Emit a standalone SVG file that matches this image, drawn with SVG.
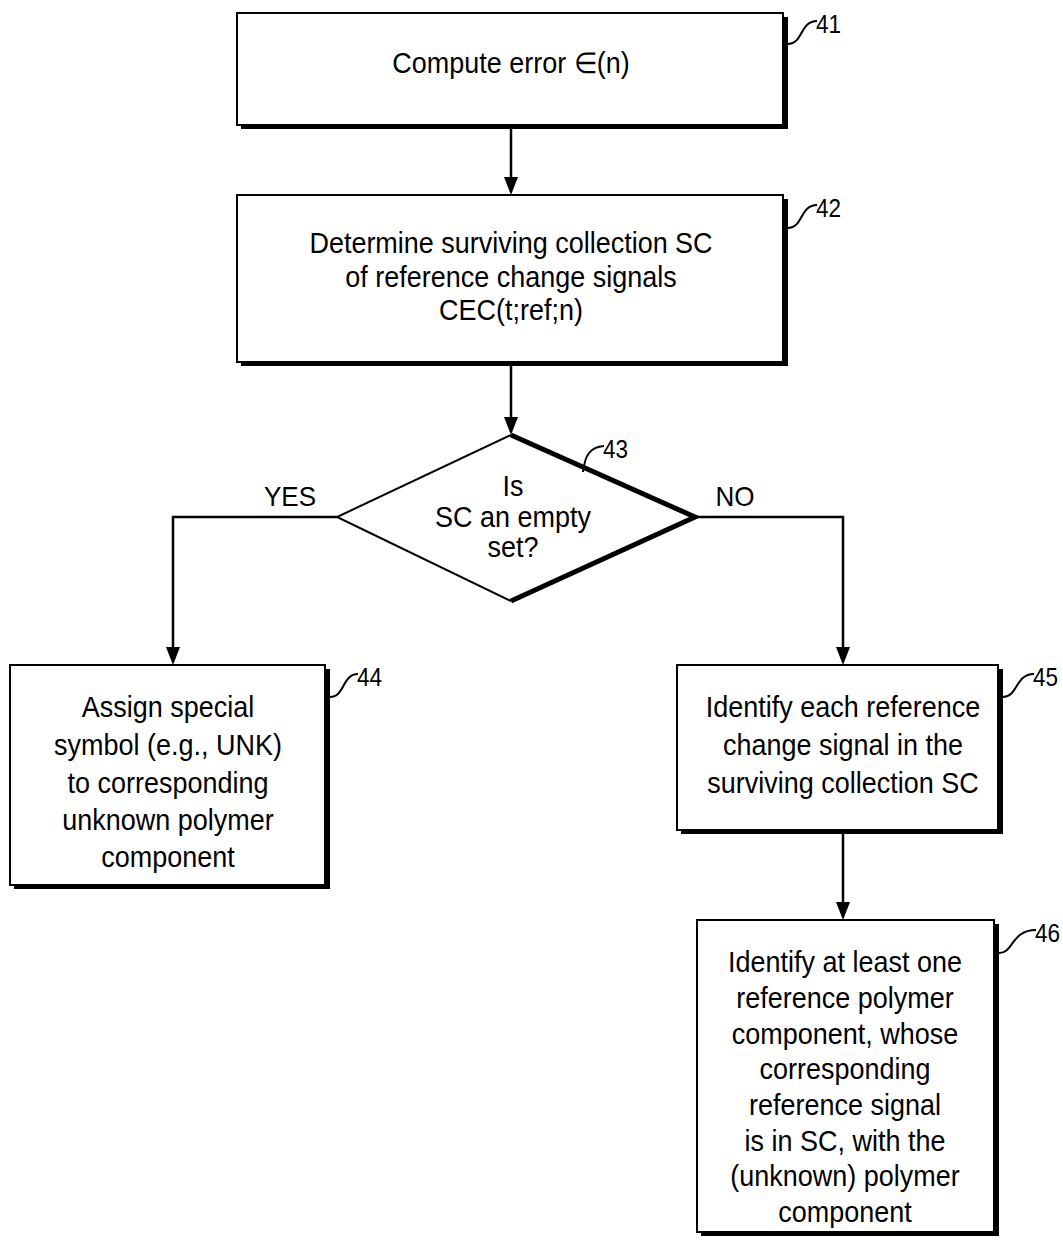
<svg xmlns="http://www.w3.org/2000/svg" width="1063" height="1240" viewBox="0 0 1063 1240">
<style>
.bx{fill:#fff;stroke:#000;stroke-width:2}
.sh{fill:#000}
.t{font-family:"Liberation Sans",Arial,sans-serif;font-size:29px;fill:#000;text-anchor:middle}
.lb{font-family:"Liberation Sans",Arial,sans-serif;font-size:25px;fill:#000}
.yn{font-family:"Liberation Sans",Arial,sans-serif;font-size:28px;fill:#000;text-anchor:middle}
.ln{fill:none;stroke:#000;stroke-width:2.5}
.ld{fill:none;stroke:#000;stroke-width:2}
.ah{fill:#000}
</style>
<rect width="1063" height="1240" fill="#fff"/>
<g id="connectors">
<line class="ln" x1="511" y1="128" x2="511" y2="180"/>
<line class="ln" x1="511" y1="365" x2="511" y2="420"/>
<polyline class="ln" points="337,517 173,517 173,650"/>
<polyline class="ln" points="695,517 843,517 843,650"/>
<line class="ln" x1="843" y1="833" x2="843" y2="905"/>
<path class="ah" d="M504,177 L518,177 L511,195 Z"/>
<path class="ah" d="M504,417 L518,417 L511,435 Z"/>
<path class="ah" d="M166,647 L180,647 L173,665 Z"/>
<path class="ah" d="M836,647 L850,647 L843,665 Z"/>
<path class="ah" d="M836,902 L850,902 L843,920 Z"/>
<text class="yn" transform="translate(290 0) scale(0.93 1)" x="0" y="506">YES</text>
<text class="yn" transform="translate(735 0) scale(0.93 1)" x="0" y="506">NO</text>
</g>
<g id="n41">
<rect class="sh" x="241" y="17" width="547" height="112"/>
<rect class="bx" x="237" y="13" width="546" height="112"/>
<text class="t" transform="translate(511 0) scale(0.93 1)" x="0" y="73">Compute error ∈(n)</text>
<path class="ld" d="M788,44 C803,44 800,21 817,21"/>
<text class="lb" transform="translate(816 0) scale(0.9 1)" x="0" y="33">41</text>
</g>
<g id="n42">
<rect class="sh" x="241" y="199" width="547" height="167"/>
<rect class="bx" x="237" y="195" width="546" height="167"/>
<text class="t" transform="translate(511 0) scale(0.93 1)"><tspan x="0" y="253">Determine surviving collection SC</tspan><tspan x="0" y="287">of reference change signals</tspan><tspan x="0" y="320">CEC(t;ref;n)</tspan></text>
<path class="ld" d="M788,228 C803,228 800,205 817,205"/>
<text class="lb" transform="translate(816 0) scale(0.9 1)" x="0" y="217">42</text>
</g>
<g id="n43">
<polygon points="511,435 695,517 511,601 337,517" fill="#fff" stroke="none"/>
<polyline class="ld" points="511,435 337,517 511,601"/>
<polyline fill="none" stroke="#000" stroke-width="5" stroke-linejoin="miter" points="511,435 695,517 511,601"/>
<text class="t" transform="translate(513 0) scale(0.93 1)"><tspan x="0" y="496">Is</tspan><tspan x="0" y="527">SC an empty</tspan><tspan x="0" y="557">set?</tspan></text>
<path class="ld" d="M583,472 C585,455 590,447 604,446"/>
<text class="lb" transform="translate(603 0) scale(0.9 1)" x="0" y="458">43</text>
</g>
<g id="n44">
<rect class="sh" x="14" y="669" width="316" height="220"/>
<rect class="bx" x="10" y="665" width="315" height="220"/>
<text class="t" transform="translate(168 0) scale(0.93 1)"><tspan x="0" y="717">Assign special</tspan><tspan x="0" y="755">symbol (e.g., UNK)</tspan><tspan x="0" y="793">to corresponding</tspan><tspan x="0" y="830">unknown polymer</tspan><tspan x="0" y="867">component</tspan></text>
<path class="ld" d="M330,697 C345,697 342,674 358,674"/>
<text class="lb" transform="translate(357 0) scale(0.9 1)" x="0" y="686">44</text>
</g>
<g id="n45">
<rect class="sh" x="681" y="669" width="322" height="165"/>
<rect class="bx" x="677" y="665" width="321" height="165"/>
<text class="t" transform="translate(843 0) scale(0.93 1)"><tspan x="0" y="717">Identify each reference</tspan><tspan x="0" y="755">change signal in the</tspan><tspan x="0" y="793">surviving collection SC</tspan></text>
<path class="ld" d="M1003,697 C1018,697 1015,674 1034,674"/>
<text class="lb" transform="translate(1033 0) scale(0.9 1)" x="0" y="686">45</text>
</g>
<g id="n46">
<rect class="sh" x="701" y="924" width="298" height="312"/>
<rect class="bx" x="697" y="920" width="297" height="312"/>
<text class="t" transform="translate(845 0) scale(0.93 1)"><tspan x="0" y="972">Identify at least one</tspan><tspan x="0" y="1008">reference polymer</tspan><tspan x="0" y="1044">component, whose</tspan><tspan x="0" y="1079">corresponding</tspan><tspan x="0" y="1115">reference signal</tspan><tspan x="0" y="1151">is in SC, with the</tspan><tspan x="0" y="1186">(unknown) polymer</tspan><tspan x="0" y="1222">component</tspan></text>
<path class="ld" d="M999,953 C1014,953 1011,930 1036,930"/>
<text class="lb" transform="translate(1035 0) scale(0.9 1)" x="0" y="942">46</text>
</g>
</svg>
